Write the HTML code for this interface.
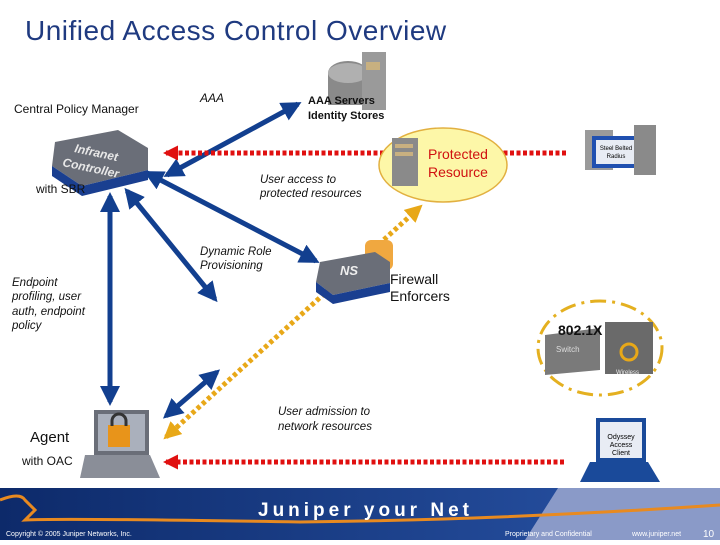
<!DOCTYPE html>
<html><head><meta charset="utf-8"><style>
body{margin:0;width:720px;height:540px;overflow:hidden;background:#fff;font-family:"Liberation Sans",sans-serif}
svg text{font-family:"Liberation Sans",sans-serif}
</style></head><body>
<svg width="720" height="540" viewBox="0 0 720 540">
<defs>
<marker id="b" viewBox="0 0 10 10" refX="8" refY="5" markerWidth="4" markerHeight="4" orient="auto-start-reverse"><path d="M0,0L10,5L0,10z" fill="#123f8f"/></marker>
<marker id="r" viewBox="0 0 10 10" refX="8" refY="5" markerWidth="3" markerHeight="3.5" orient="auto-start-reverse"><path d="M0,0L10,5L0,10z" fill="#e01010"/></marker>
<marker id="y" viewBox="0 0 10 10" refX="8" refY="5" markerWidth="3.5" markerHeight="3.5" orient="auto-start-reverse"><path d="M0,0L10,5L0,10z" fill="#e8a818"/></marker>
<linearGradient id="ft" x1="0" x2="1"><stop offset="0" stop-color="#0d2a6a"/><stop offset="1" stop-color="#2a55a8"/></linearGradient>
</defs>
<text x="25" y="40" font-size="28" fill="#1f3a80" letter-spacing="0.5">Unified Access Control Overview</text>
<!-- arrows -->
<g stroke="#123f8f" stroke-width="5" fill="none">
<line x1="167" y1="175" x2="298" y2="104" marker-start="url(#b)" marker-end="url(#b)"/>
<line x1="147" y1="173" x2="316" y2="261" marker-start="url(#b)" marker-end="url(#b)"/>
<line x1="127" y1="191" x2="215" y2="299" marker-start="url(#b)" marker-end="url(#b)"/>
<line x1="110" y1="196" x2="110" y2="402" marker-start="url(#b)" marker-end="url(#b)"/>
<line x1="166" y1="416" x2="217" y2="372" marker-start="url(#b)" marker-end="url(#b)"/>
</g>
<g stroke="#e01010" stroke-width="5" stroke-dasharray="4 2.5" fill="none">
<line x1="566" y1="153" x2="166" y2="153" marker-end="url(#r)"/>
<line x1="564" y1="462" x2="166" y2="462" marker-end="url(#r)"/>
</g>
<line x1="166" y1="437" x2="420" y2="207" stroke="#e8a818" stroke-width="5" stroke-dasharray="4 3" marker-start="url(#y)" marker-end="url(#y)"/>
<!-- ellipses -->
<ellipse cx="443" cy="165" rx="64" ry="37" fill="#fdf7a8" stroke="#e2b040" stroke-width="1.5"/>
<ellipse cx="600" cy="348" rx="62" ry="47" fill="none" stroke="#e4b020" stroke-width="3" stroke-dasharray="16 6 3 6"/>
<!-- devices -->
<g>
<polygon points="55,142 118,130 148,148 148,170 82,186 52,166" fill="#6a6e78"/>
<polygon points="52,166 82,186 148,170 148,180 82,196 52,176" fill="#1a3f90"/>
<text x="74" y="152" font-size="12" font-weight="bold" fill="#e8e8e8" font-style="italic" transform="rotate(12 74 152)">Infranet</text>
<text x="62" y="166" font-size="12" font-weight="bold" fill="#e8e8e8" font-style="italic" transform="rotate(12 62 166)">Controller</text>
</g>
<g><ellipse cx="348" cy="73" rx="20" ry="12" fill="#8a8a8a"/><rect x="328" y="73" width="40" height="32" fill="#8a8a8a"/><ellipse cx="348" cy="73" rx="20" ry="10" fill="#b0b0b0"/><rect x="362" y="52" width="24" height="58" fill="#9a9a9a"/><rect x="366" y="62" width="14" height="8" fill="#c8b080"/></g>
<g><rect x="392" y="138" width="26" height="48" fill="#8a8a8a"/><rect x="395" y="144" width="18" height="4" fill="#c8b080"/><rect x="395" y="152" width="18" height="4" fill="#c8b080"/></g>
<g><rect x="585" y="130" width="28" height="40" fill="#9a9a9a"/><rect x="592" y="136" width="48" height="32" fill="#2050b0"/><rect x="596" y="140" width="40" height="24" fill="#e8ecf4"/><text x="616" y="150" font-size="6" text-anchor="middle">Steel Belted</text><text x="616" y="158" font-size="6" text-anchor="middle">Radius</text><rect x="634" y="125" width="22" height="50" fill="#8a8a8a"/></g>
<g><rect x="365" y="240" width="28" height="30" rx="6" fill="#f0a840"/><polygon points="320,262 375,252 390,262 390,283 333,295 316,282" fill="#6a6e78"/><polygon points="316,282 333,295 390,283 390,292 333,304 316,292" fill="#1a3f90"/><text x="340" y="275" font-size="13" fill="#eee" font-style="italic" font-weight="bold">NS</text></g>
<g><polygon points="545,335 600,328 600,370 545,375" fill="#7a7a7a"/><rect x="605" y="322" width="48" height="52" fill="#6a6a6a"/><circle cx="629" cy="352" r="8" fill="none" stroke="#e8a818" stroke-width="3"/><text x="556" y="352" font-size="8" fill="#ddd">Switch</text><text x="616" y="374" font-size="6" fill="#eee">Wireless</text></g>
<g><rect x="94" y="410" width="55" height="45" fill="#6a6e78"/><rect x="98" y="414" width="47" height="37" fill="#aab0bc"/><rect x="108" y="425" width="22" height="22" fill="#e8941a"/><path d="M112 426v-5a7 7 0 0 1 14 0v5" stroke="#333" stroke-width="3" fill="none"/><polygon points="85,455 150,455 160,478 80,478" fill="#8a8e98"/></g>
<g><rect x="596" y="418" width="50" height="44" fill="#1a4a9a"/><rect x="600" y="422" width="42" height="36" fill="#e8ecf4"/><text x="621" y="439" font-size="7" text-anchor="middle">Odyssey</text><text x="621" y="447" font-size="7" text-anchor="middle">Access</text><text x="621" y="455" font-size="7" text-anchor="middle">Client</text><polygon points="590,462 648,462 660,482 580,482" fill="#1a4a9a"/></g>
<!-- labels -->
<g font-size="12" fill="#111">
<text x="14" y="113">Central Policy Manager</text>
<text x="200" y="102" font-style="italic">AAA</text>
<text x="308" y="104" font-weight="bold" font-size="11">AAA Servers</text>
<text x="308" y="119" font-weight="bold" font-size="11">Identity Stores</text>
<text x="36" y="193">with SBR</text>
<text x="260" y="183" font-style="italic" font-size="11.5">User access to</text>
<text x="260" y="197" font-style="italic" font-size="11.5">protected resources</text>
<text x="200" y="255" font-style="italic" font-size="11.5">Dynamic Role</text>
<text x="200" y="269" font-style="italic" font-size="11.5">Provisioning</text>
<text x="12" y="286" font-style="italic" font-size="11.5">Endpoint</text>
<text x="12" y="300" font-style="italic" font-size="11.5">profiling, user</text>
<text x="12" y="315" font-style="italic" font-size="11.5">auth, endpoint</text>
<text x="12" y="329" font-style="italic" font-size="11.5">policy</text>
<text x="390" y="284" font-size="14">Firewall</text>
<text x="390" y="301" font-size="14">Enforcers</text>
<text x="558" y="335" font-size="14" font-weight="bold">802.1X</text>
<text x="278" y="415" font-style="italic" font-size="11.5">User admission to</text>
<text x="278" y="430" font-style="italic" font-size="11.5">network resources</text>
<text x="30" y="442" font-size="15">Agent</text>
<text x="22" y="465">with OAC</text>
<text x="428" y="159" font-size="14" fill="#d01010">Protected</text>
<text x="428" y="177" font-size="14" fill="#d01010">Resource</text>
</g>
<!-- footer -->
<rect x="0" y="488" width="720" height="52" fill="url(#ft)"/>
<polygon points="525,540 558,488 720,488 720,540" fill="#8a9ac8"/>
<path d="M0,500 Q20,492 25,500 L35,510 L25,520 Q60,518 300,522 Q500,520 720,505" stroke="#e88a20" stroke-width="3" fill="none"/>
<text x="258" y="516" font-size="19" fill="#fff" letter-spacing="4" font-weight="bold">Juniper your Net</text>
<text x="6" y="536" font-size="7" fill="#fff">Copyright © 2005 Juniper Networks, Inc.</text>
<text x="505" y="536" font-size="7" fill="#fff">Proprietary and Confidential</text>
<text x="632" y="536" font-size="7" fill="#fff">www.juniper.net</text>
<text x="703" y="537" font-size="10" fill="#fff">10</text>
</svg>
</body></html>
